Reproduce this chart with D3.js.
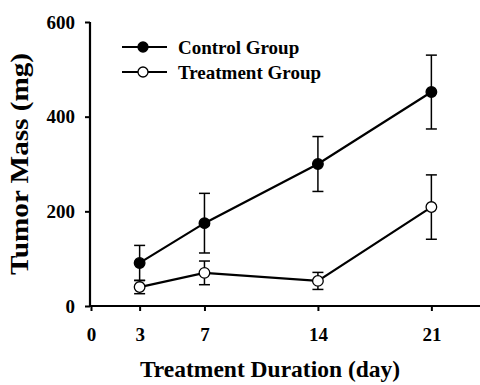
<!DOCTYPE html>
<html>
<head>
<meta charset="utf-8">
<script src="https://cdn.jsdelivr.net/npm/d3@7"></script>
<style>
  body { margin: 0; background: #fff; }
  text { font-family: "Liberation Serif", "Times New Roman", serif; font-weight: bold; fill: #000; }
  .tick text { font-size: 19px !important; font-family: "Liberation Serif", serif !important; font-weight: bold !important; }
</style>
</head>
<body>
<svg id="chart" width="480" height="385"></svg>
<script>
// ------ data ------
var days = [3, 7, 14, 21]
var controlMean = [91, 175, 300, 452]
var controlErr = [37, 63, 58, 78]
var treatMean = [40, 70, 53, 209]
var treatErr = [14, 25, 18, 68]
var yTicks = [0, 200, 400, 600]
var xTicks = [0, 3, 7, 14, 21]

var series = [
  { name: 'Control Group', mean: controlMean, err: controlErr, fill: '#000' },
  { name: 'Treatment Group', mean: treatMean, err: treatErr, fill: '#fff' }
]

var svg = d3.select('#chart')

var x = d3.scaleLinear().domain([0, 24]).range([91, 480])
var y = d3.scaleLinear().domain([0, 600]).range([306, 22])

// ------ axes ------
var yAxis = svg.append('g')
  .attr('transform', 'translate(90,0)')
  .call(d3.axisLeft(y).tickValues(yTicks).tickSize(5).tickPadding(10).tickFormat(d3.format('d')))
var xAxis = svg.append('g')
  .attr('transform', 'translate(0,306)')
  .call(d3.axisBottom(x).tickValues(xTicks).tickSize(5).tickPadding(17).tickSizeOuter(0))

;[xAxis, yAxis].forEach(function (g) {
  g.select('.domain').attr('stroke', '#000').attr('stroke-width', 2.2)
  g.selectAll('.tick line').attr('stroke', '#000').attr('stroke-width', 2)
})
yAxis.select('.domain').attr('d', 'M0,' + y(600) + 'V' + y(0))
xAxis.select('.domain').attr('d', 'M89,0H480')

// ------ axis titles ------
svg.append('text')
  .attr('transform', 'translate(28,164) rotate(-90)')
  .attr('text-anchor', 'middle')
  .attr('textLength', 222)
  .attr('lengthAdjust', 'spacingAndGlyphs')
  .style('font-size', '25px')
  .text('Tumor Mass (mg)')
svg.append('text')
  .attr('x', 270).attr('y', 377)
  .attr('text-anchor', 'middle')
  .style('font-size', '23.5px')
  .text('Treatment Duration (day)')

// ------ series ------
var line = d3.line()
  .x(function (d) { return x(d[0]) })
  .y(function (d) { return y(d[1]) })

series.forEach(function (s) {
  var pts = days.map(function (d, i) { return [d, s.mean[i], s.err[i]] })
  var g = svg.append('g')

  g.append('path')
    .datum(pts)
    .attr('d', line)
    .attr('fill', 'none')
    .attr('stroke', '#000')
    .attr('stroke-width', 2.2)

  var eb = g.selectAll('.err').data(pts).enter().append('g')
  eb.append('line')
    .attr('x1', function (d) { return x(d[0]) }).attr('x2', function (d) { return x(d[0]) })
    .attr('y1', function (d) { return y(d[1] - d[2]) }).attr('y2', function (d) { return y(d[1] + d[2]) })
    .attr('stroke', '#000').attr('stroke-width', 1.5)
  ;[-1, 1].forEach(function (sgn) {
    eb.append('line')
      .attr('x1', function (d) { return x(d[0]) - 5.5 }).attr('x2', function (d) { return x(d[0]) + 5.5 })
      .attr('y1', function (d) { return y(d[1] + sgn * d[2]) }).attr('y2', function (d) { return y(d[1] + sgn * d[2]) })
      .attr('stroke', '#000').attr('stroke-width', 1.5)
  })

  g.selectAll('circle').data(pts).enter().append('circle')
    .attr('cx', function (d) { return x(d[0]) })
    .attr('cy', function (d) { return y(d[1]) })
    .attr('r', 5.3)
    .attr('fill', s.fill)
    .attr('stroke', '#000')
    .attr('stroke-width', 1.3)
})

// ------ legend ------
var legend = svg.append('g').attr('transform', 'translate(122,47)')
series.forEach(function (s, i) {
  var row = legend.append('g').attr('transform', 'translate(0,' + i * 25 + ')')
  row.append('line').attr('x1', 0).attr('x2', 45).attr('stroke', '#000').attr('stroke-width', 2.2)
  row.append('circle').attr('cx', 21).attr('r', 5).attr('fill', s.fill).attr('stroke', '#000').attr('stroke-width', 1.3)
  row.append('text').attr('x', 56).attr('y', 7).style('font-size', '19px').text(s.name)
})
</script>
</body>
</html>
